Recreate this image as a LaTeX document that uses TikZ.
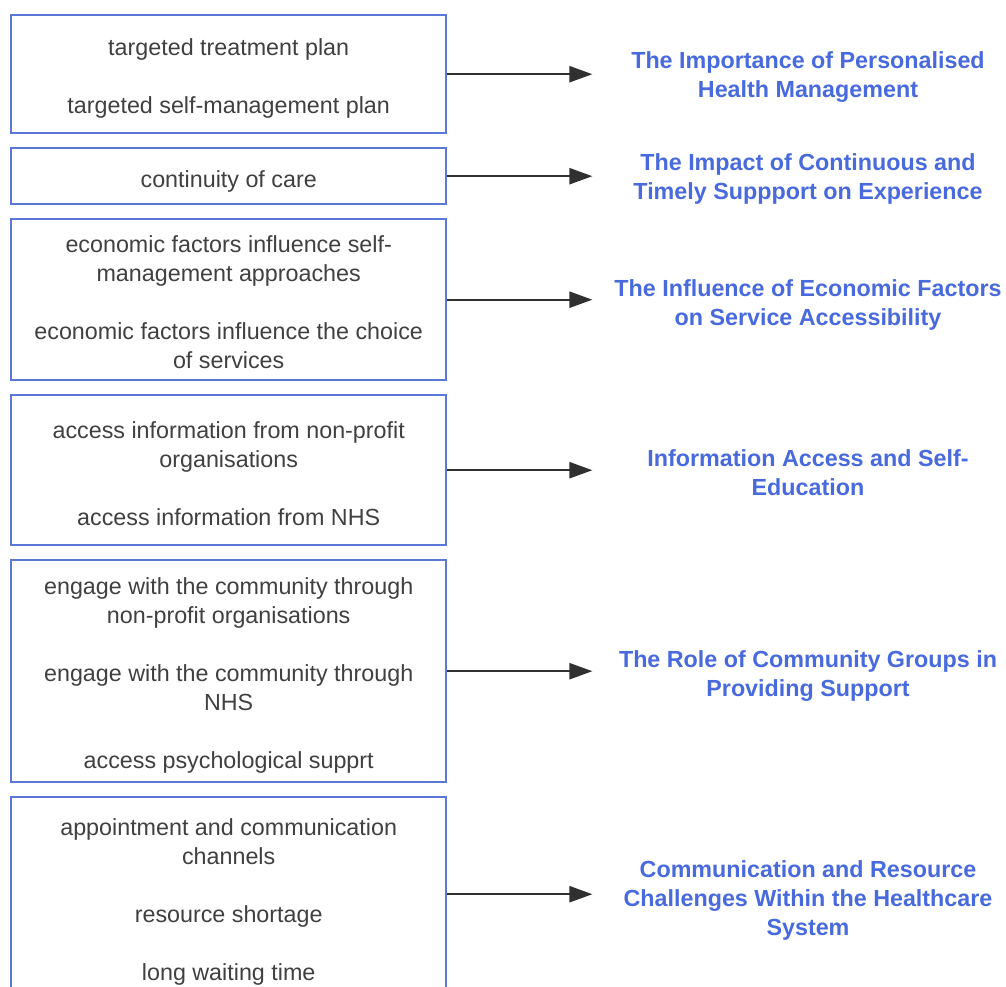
\documentclass[tikz,border=0pt]{standalone}
\usepackage{fontspec}
\setmainfont{Liberation Sans}
\usetikzlibrary{arrows.meta}
\definecolor{boxblue}{RGB}{92,120,214}
\definecolor{titleblue}{RGB}{72,106,220}
\definecolor{bodygray}{RGB}{64,64,64}
\definecolor{arrowgray}{RGB}{48,48,48}
\begin{document}
\begin{tikzpicture}[x=1pt,y=-1pt,
  itembox/.style={draw=boxblue, line width=2.4pt, fill=white, anchor=north west,
    minimum width=435pt, inner sep=0pt},
  itemtext/.style={align=center, text=bodygray, inner sep=0pt,
    font=\fontsize{23.3}{29}\selectfont},
  theme/.style={align=center, text=titleblue,
    font=\fontsize{23.3}{29}\selectfont\bfseries},
  link/.style={draw=arrowgray, line width=2.4pt,
    -{Triangle[length=23pt,width=16pt]}}]
\useasboundingbox (0,0) rectangle (1006,987);
\clip (0,0) rectangle (1006,987);

% left column: boxes
\node[itembox, minimum height=118pt] (b1) at (10,14) {};
\node[itembox, minimum height=56pt]  (b2) at (10,147) {};
\node[itembox, minimum height=161pt] (b3) at (10,218) {};
\node[itembox, minimum height=150pt] (b4) at (10,394) {};
\node[itembox, minimum height=222pt] (b5) at (10,559) {};
\node[itembox, minimum height=194pt] (b6) at (10,796) {};

% codes inside the boxes
\node[itemtext] (c1) at ([yshift=-4pt]b1.center)
  {targeted treatment plan\\[29pt]targeted self-management plan};
\node[itemtext] (c2) at ([yshift=-5pt]b2.center)
  {continuity of care};
\node[itemtext] (c3) at ([yshift=-2.5pt]b3.center)
  {economic factors influence self-\\management approaches\\[29pt]economic factors influence the choice\\of services};
\node[itemtext] (c4) at ([yshift=-3.5pt]b4.center)
  {access information from non-profit\\organisations\\[29pt]access information from NHS};
\node[itemtext] (c5) at ([yshift=-4pt]b5.center)
  {engage with the community through\\non-profit organisations\\[29pt]engage with the community through\\NHS\\[29pt]access psychological supprt};
\node[itemtext] (c6) at ([yshift=-7.5pt]b6.center)
  {appointment and communication\\channels\\[29pt]resource shortage\\[29pt]long waiting time};

% right column: themes
\node[theme] (t1) at (808,77) {The Importance of Personalised\\Health Management};
\node[theme] (t2) at (808,179) {The Impact of Continuous and\\Timely Suppport on Experience};
\node[theme] (t3) at (808,305) {The Influence of Economic Factors\\on Service Accessibility};
\node[theme] (t4) at (808,473) {Information Access and Self-\\Education};
\node[theme] (t5) at (808,676) {The Role of Community Groups in\\Providing Support};
\node[theme] (t6) at (808,900) {Communication and Resource\\Challenges Within the Healthcare\\System};

% arrow ends in front of each theme, level with the box centres
\foreach \i in {1,...,6}
  \path (b\i.east) ++(145,0) coordinate (e\i);

\foreach \i in {1,...,6}
  \draw[link] (b\i.east) -- (e\i);
\end{tikzpicture}
\end{document}
